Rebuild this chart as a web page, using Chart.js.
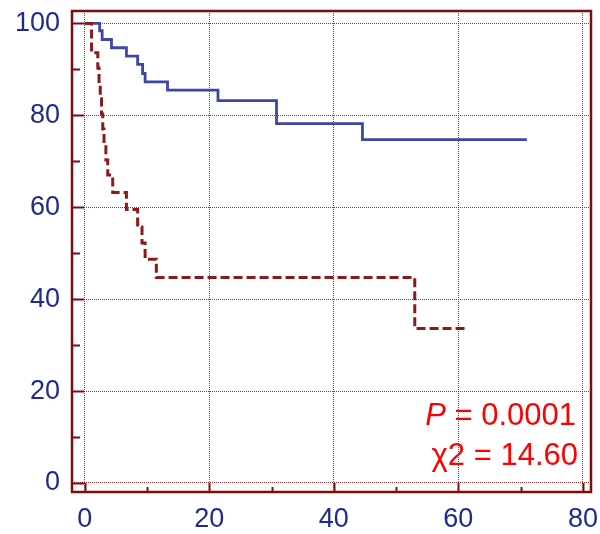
<!DOCTYPE html>
<html>
<head>
<meta charset="utf-8">
<script src="https://cdn.jsdelivr.net/npm/chart.js@4/dist/chart.umd.min.js"></script>
<style>
  html, body { margin: 0; padding: 0; background: #ffffff; }
  #wrap { width: 600px; height: 534px; }
</style>
</head>
<body>
<div id="wrap"><canvas id="c" width="600" height="534"></canvas></div>
<script>
// ---- data ----
const blueTime = [0, 2.4, 2.8, 4.3, 6.7, 8.5, 9.3, 9.7, 13.3, 21.4, 30.8, 44.6, 71.0];
const blueSurv = [100, 98.4, 96.5, 94.7, 92.9, 91.1, 89.1, 87.3, 85.5, 83.2, 78.2, 74.7, 74.7];

const redTime = [0, 1.1, 2.1, 2.3, 2.5, 2.7, 2.9, 3.1, 3.4, 3.7, 4.5, 6.7, 8.5, 9.2, 9.7, 11.5, 53.0, 61.1];
const redSurv = [100, 93.6, 90.3, 87.0, 83.6, 80.3, 77.0, 73.7, 70.3, 67.0, 63.2, 59.5, 55.7, 52.2, 48.7, 44.7, 33.6, 33.6];

const xTicks = [0, 20, 40, 60, 80];
const yTicks = [0, 20, 40, 60, 80, 100];
const xMinorTicks = [10, 30, 50, 70];
const yMinorTicks = [10, 30, 50, 70, 90];

const statLine1Italic = 'P';
const statLine1Rest = ' = 0.0001';
const statLine2 = '\u03C72 = 14.60';

// ---- styling ----
const frameColor = '#7d0c0c';
const gridColor = 'rgba(150,25,25,0.9)';
const labelColor = '#1f2a8e';
const blueColor = '#3c46aa';
const redColor = '#8c1a1a';

function pts(t, s) { return t.map((v, i) => ({ x: v, y: s[i] })); }

const framePlugin = {
  id: 'frame',
  afterDatasetsDraw(chart) {
    const ctx = chart.ctx;
    const a = chart.chartArea;
    const xs = chart.scales.x, ys = chart.scales.y;
    ctx.save();
    ctx.strokeStyle = frameColor;
    ctx.lineWidth = 2;
    ctx.beginPath();
    xTicks.forEach(v => { const px = Math.round(xs.getPixelForValue(v)) + 0.5; ctx.moveTo(px, a.bottom); ctx.lineTo(px, a.bottom - 9); });
    xMinorTicks.forEach(v => { const px = Math.round(xs.getPixelForValue(v)) + 0.5; ctx.moveTo(px, a.bottom); ctx.lineTo(px, a.bottom - 5); });
    yTicks.forEach(v => { const py = Math.round(ys.getPixelForValue(v)) + 0.5; ctx.moveTo(a.left, py); ctx.lineTo(a.left + 12, py); });
    yMinorTicks.forEach(v => { const py = Math.round(ys.getPixelForValue(v)) + 0.5; ctx.moveTo(a.left, py); ctx.lineTo(a.left + 8, py); });
    ctx.stroke();
    ctx.lineWidth = 2.5;
    ctx.strokeRect(a.left, a.top, a.right - a.left, a.bottom - a.top);
    ctx.restore();
  },
  afterDraw(chart) {
    const ctx = chart.ctx;
    ctx.save();
    ctx.fillStyle = '#ff0000';
    ctx.textBaseline = 'middle';
    const size = 31;
    const rightX = 576;
    ctx.font = 'italic ' + size + 'px "Liberation Sans", Arial, sans-serif';
    const wP = ctx.measureText(statLine1Italic).width;
    ctx.font = size + 'px "Liberation Sans", Arial, sans-serif';
    const wRest = ctx.measureText(statLine1Rest).width;
    const x1 = rightX - wP - wRest;
    ctx.font = 'italic ' + size + 'px "Liberation Sans", Arial, sans-serif';
    ctx.textAlign = 'left';
    ctx.fillText(statLine1Italic, x1, 416);
    ctx.font = size + 'px "Liberation Sans", Arial, sans-serif';
    ctx.fillText(statLine1Rest, x1 + wP, 416);
    ctx.textAlign = 'right';
    ctx.fillText(statLine2, rightX + 2, 456);
    ctx.restore();
  }
};

new Chart(document.getElementById('c'), {
  type: 'line',
  data: {
    datasets: [
      {
        label: 'Group 2',
        data: pts(redTime, redSurv),
        borderColor: redColor,
        borderWidth: 3,
        borderDash: [9, 4],
        stepped: 'before',
        pointRadius: 0,
        fill: false
      },
      {
        label: 'Group 1',
        data: pts(blueTime, blueSurv),
        borderColor: blueColor,
        borderWidth: 2.8,
        stepped: 'before',
        pointRadius: 0,
        fill: false
      }
    ]
  },
  options: {
    responsive: false,
    animation: false,
    events: [],
    layout: { padding: { top: 11, right: 9, left: 0, bottom: 0 } },
    plugins: { legend: { display: false }, tooltip: { enabled: false } },
    scales: {
      x: {
        type: 'linear',
        min: -2.04,
        max: 81.3,
        afterBuildTicks: s => { s.ticks = xTicks.map(v => ({ value: v })); },
        afterFit: s => { s.height = 42; s.paddingLeft = 0; s.paddingRight = 0; },
        grid: { color: gridColor, lineWidth: 1, drawTicks: false },
        border: { display: false, dash: [1, 1] },
        ticks: {
          padding: 11,
          color: labelColor,
          font: { family: '"Liberation Sans", Arial, sans-serif', size: 27 },
          maxRotation: 0
        }
      },
      y: {
        type: 'linear',
        min: -1.96,
        max: 102.7,
        afterBuildTicks: s => { s.ticks = yTicks.map(v => ({ value: v })); },
        afterFit: s => { s.width = 72; s.paddingTop = 0; s.paddingBottom = 0; },
        grid: { color: gridColor, lineWidth: 1, drawTicks: false },
        border: { display: false, dash: [1, 1] },
        ticks: {
          padding: 12,
          color: labelColor,
          font: { family: '"Liberation Sans", Arial, sans-serif', size: 27 }
        }
      }
    }
  },
  plugins: [framePlugin]
});
</script>
</body>
</html>
